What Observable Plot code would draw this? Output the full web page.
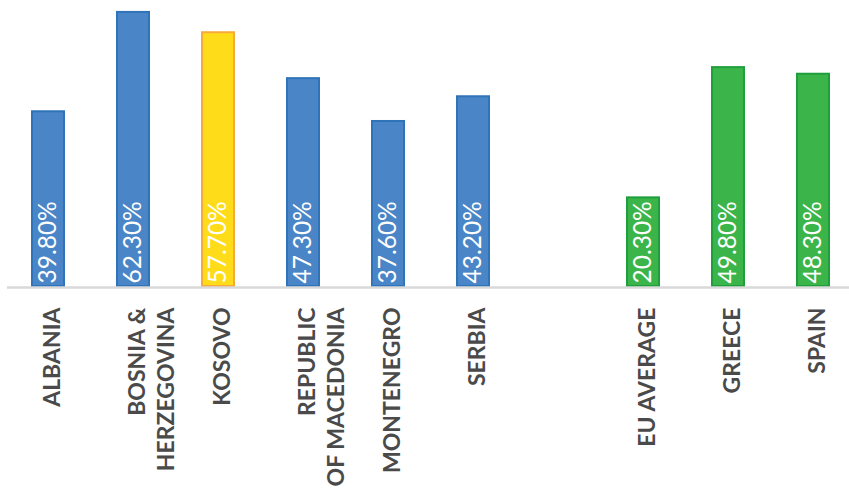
<!DOCTYPE html>
<html>
<head>
<meta charset="utf-8">
<script src="https://cdn.jsdelivr.net/npm/d3@7"></script>
<script src="https://cdn.jsdelivr.net/npm/@observablehq/plot@0.6"></script>
<style>
  html, body { margin: 0; padding: 0; background: #fff; }
  svg { display: block; }
</style>
</head>
<body>
<div id="chart"></div>
<script>
const categories = ["ALBANIA", "BOSNIA &\nHERZEGOVINA", "KOSOVO", "REPUBLIC\nOF MACEDONIA", "MONTENEGRO", "SERBIA", "EU AVERAGE", "GREECE", "SPAIN"];
const values = [39.8, 62.3, 57.7, 47.3, 37.6, 43.2, 20.3, 49.8, 48.3];
const groups = ["balkan", "balkan", "kosovo", "balkan", "balkan", "balkan", "eu", "eu", "eu"];
const labels = ["39.80%", "62.30%", "57.70%", "47.30%", "37.60%", "43.20%", "20.30%", "49.80%", "48.30%"];

const fillColors = {balkan: "#4a86c7", kosovo: "#ffdc1a", eu: "#3bb54a"};
const strokeColors = {balkan: "#2f73b8", kosovo: "#f7aa3a", eu: "#1f9e3c"};

const data = categories.map((c, i) => ({cat: c, value: values[i], group: groups[i], label: labels[i]}));
// spacer slot between the Western Balkans and the EU comparison group
const domain = [...categories.slice(0, 6), "", ...categories.slice(6)];

const chart = Plot.plot({
  width: 849,
  height: 496,
  marginLeft: 7,
  marginRight: 0,
  marginTop: 0,
  marginBottom: 209,
  style: {fontFamily: "Lato, sans-serif", background: "#fff"},
  x: {type: "band", domain, range: [30, 832], paddingInner: 0.62, paddingOuter: 0, axis: null},
  y: {domain: [0, 65], axis: null},
  marks: [
    Plot.barY(data, {
      x: "cat", y: "value",
      fill: d => fillColors[d.group],
      stroke: d => strokeColors[d.group],
      strokeWidth: 2,
      insetBottom: 1
    }),
    Plot.ruleY([0], {stroke: "#d9d9d9", strokeWidth: 2.5}),
    Plot.text(data, {
      x: "cat", y: 0, text: "label",
      rotate: -90, textAnchor: "start", lineAnchor: "middle",
      dy: -4, fill: "white", fontSize: 24.5
    }),
    Plot.text(data, {
      x: "cat", text: "cat", frameAnchor: "bottom",
      rotate: -90, textAnchor: "end", lineAnchor: "top",
      dx: -9, dy: 20, lineHeight: 1.26,
      fill: "#4a4a4a", fontSize: 23, fontWeight: "bold",
      letterSpacing: 2.2
    })
  ]
});
document.getElementById("chart").append(chart);
</script>
</body>
</html>
